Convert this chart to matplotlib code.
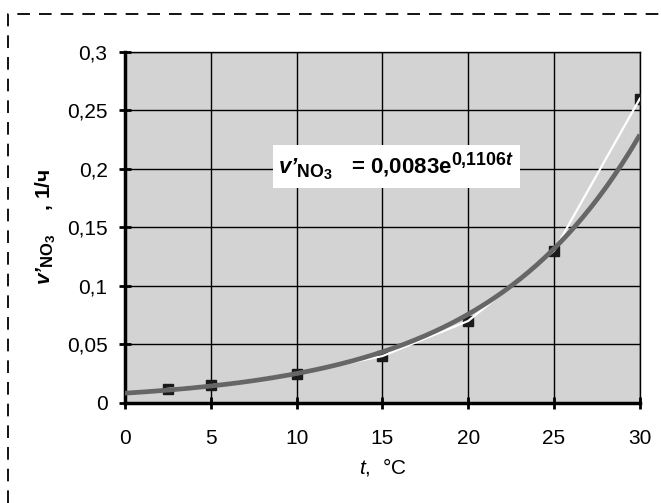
import matplotlib
matplotlib.use("Agg")
import matplotlib.pyplot as plt
import matplotlib._mathtext as mt
from matplotlib.lines import Line2D
import numpy as np

# experimental points
t_obs = [2.5, 5, 10, 15, 20, 25, 30]
v_obs = [0.012, 0.015, 0.025, 0.040, 0.070, 0.130, 0.260]

# trend line coefficients as printed on the chart
fit_a = 0.0083
fit_b = 0.1106

x_ticks = [0, 5, 10, 15, 20, 25, 30]
y_ticks = [0, 0.05, 0.1, 0.15, 0.2, 0.25, 0.3]
y_labels = ["0", "0,05", "0,1", "0,15", "0,2", "0,25", "0,3"]

plt.rcParams["font.family"] = ["Liberation Sans", "DejaVu Sans"]
plt.rcParams["mathtext.fontset"] = "custom"
plt.rcParams["mathtext.rm"] = "Liberation Sans"
plt.rcParams["mathtext.it"] = "Liberation Sans:italic"
plt.rcParams["mathtext.bf"] = "Liberation Sans:bold"
plt.rcParams["mathtext.cal"] = "Liberation Sans:bold:italic"
# sub/superscripts in the original are larger than mathtext's default
mt.SHRINK_FACTOR = 0.8

fig = plt.figure(figsize=(6.61, 5.03), dpi=100)
ax = fig.add_axes([0.189, 0.199, 0.779, 0.698])
ax.set_facecolor("#d3d3d3")

ax.plot(t_obs, v_obs, "s", color="#1a1a1a", markersize=7, zorder=3)
ax.plot(t_obs, v_obs, color="white", lw=1.6, zorder=4)
tt = np.linspace(0, 30, 200)
ax.plot(tt, fit_a * np.exp(fit_b * tt), color="#666666", lw=3.4, zorder=5,
        solid_capstyle="butt")

ax.set_xlim(0, 30)
ax.set_ylim(0, 0.3)
ax.set_xticks(x_ticks)
ax.set_yticks(y_ticks)
ax.set_yticklabels(y_labels)
ax.grid(True, color="black", lw=1)
ax.set_axisbelow(True)
ax.tick_params(direction="inout", length=9, width=2, labelsize=15)
ax.tick_params(axis="y", pad=8)
ax.tick_params(axis="x", pad=14)

for s in ["left", "bottom"]:
    ax.spines[s].set_linewidth(2.5)
for s in ["top", "right"]:
    ax.spines[s].set_linewidth(1)

ax.set_xlabel(r"$t$,  °C", fontsize=15, labelpad=6)
ax.set_ylabel(r"$\mathcal{v’}_{\mathbf{NO_3}}$    , 1/ч", fontsize=15,
              fontweight="bold", labelpad=6)

ax.text(15.8, 0.202,
        r"$\mathcal{v’}_{\mathbf{NO_3}}$   = 0,0083e$^{\mathbf{0{,}1106}\mathcal{t}}$",
        fontsize=16, fontweight="bold", ha="center", va="center", zorder=6,
        bbox=dict(facecolor="white", edgecolor="none", pad=4))

# dashed frame around the chart
fig.add_artist(Line2D([8 / 661, 8 / 661, 1.0], [0.0, 1 - 14 / 503, 1 - 14 / 503],
                      transform=fig.transFigure, color="black", lw=1.3,
                      dashes=(7, 5)))

fig.savefig("out.png", dpi=100)
